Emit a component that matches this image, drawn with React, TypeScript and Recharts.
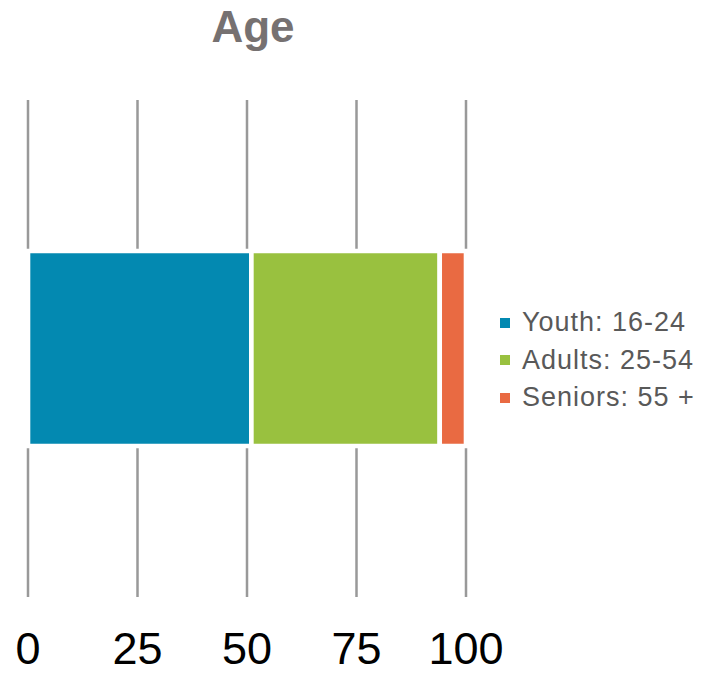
import React from "react";
import { BarChart, Bar, XAxis, YAxis, CartesianGrid, Legend } from "recharts";

// Age distribution, one stacked horizontal bar (percent of total)
const categories = ["Age"];
const seriesNames = ["Youth: 16-24", "Adults: 25-54", "Seniors: 55 +"];
const seriesKeys = ["youth", "adults", "seniors"];
const youthValues = [51];
const adultValues = [43];
const seniorValues = [6];
const seriesColors = ["#0389b1", "#99c13f", "#e96a42"];
const xTicks = [0, 25, 50, 75, 100];

const data = categories.map((name, i) => ({
  name,
  youth: youthValues[i],
  adults: adultValues[i],
  seniors: seniorValues[i],
}));

const FONT = "'Liberation Sans', Arial, sans-serif";

function LegendList(props: any) {
  const payload = [...(props.payload || [])].sort(
    (a: any, b: any) => seriesNames.indexOf(a.value) - seriesNames.indexOf(b.value)
  );
  return (
    <div style={{ fontFamily: FONT }}>
      {payload.map((entry: any) => (
        <div
          key={entry.value}
          style={{
            display: "flex",
            alignItems: "center",
            height: 37.5,
            fontSize: 27,
            letterSpacing: 1,
            color: "#595959",
            whiteSpace: "nowrap",
          }}
        >
          <span
            style={{
              display: "inline-block",
              width: 10,
              height: 10,
              background: entry.color,
              marginRight: 12,
            }}
          />
          {entry.value}
        </div>
      ))}
    </div>
  );
}

export default function App() {
  return (
    <div style={{ position: "absolute", left: 0, top: 0, width: 701, height: 674, background: "#fff" }}>
      <div
        style={{
          position: "absolute",
          left: 0,
          width: 506,
          top: 2,
          textAlign: "center",
          fontFamily: FONT,
          fontWeight: "bold",
          fontSize: 44,
          color: "#767171",
        }}
      >
        Age
      </div>
      <BarChart
        width={701}
        height={674}
        data={data}
        layout="vertical"
        margin={{ top: 100, right: 235, bottom: 17, left: 28 }}
        barSize={195}
      >
        <CartesianGrid horizontal={false} stroke="#999999" strokeWidth={2.5} />
        <XAxis
          type="number"
          domain={[0, 100]}
          ticks={xTicks}
          axisLine={false}
          tickLine={false}
          height={60}
          tickMargin={29}
          interval={0}
          tick={{ fill: "#000000", fontSize: 45, fontFamily: FONT }}
        />
        <YAxis type="category" dataKey="name" hide />
        <Legend
          layout="vertical"
          align="center"
          verticalAlign="middle"
          wrapperStyle={{ left: 500, top: 304, width: 200 }}
          content={<LegendList />}
        />
        {seriesKeys.map((key, i) => (
          <Bar
            key={key}
            dataKey={key}
            name={seriesNames[i]}
            stackId="age"
            fill={seriesColors[i]}
            stroke="#ffffff"
            strokeWidth={4.6}
            isAnimationActive={false}
          />
        ))}
      </BarChart>
    </div>
  );
}
